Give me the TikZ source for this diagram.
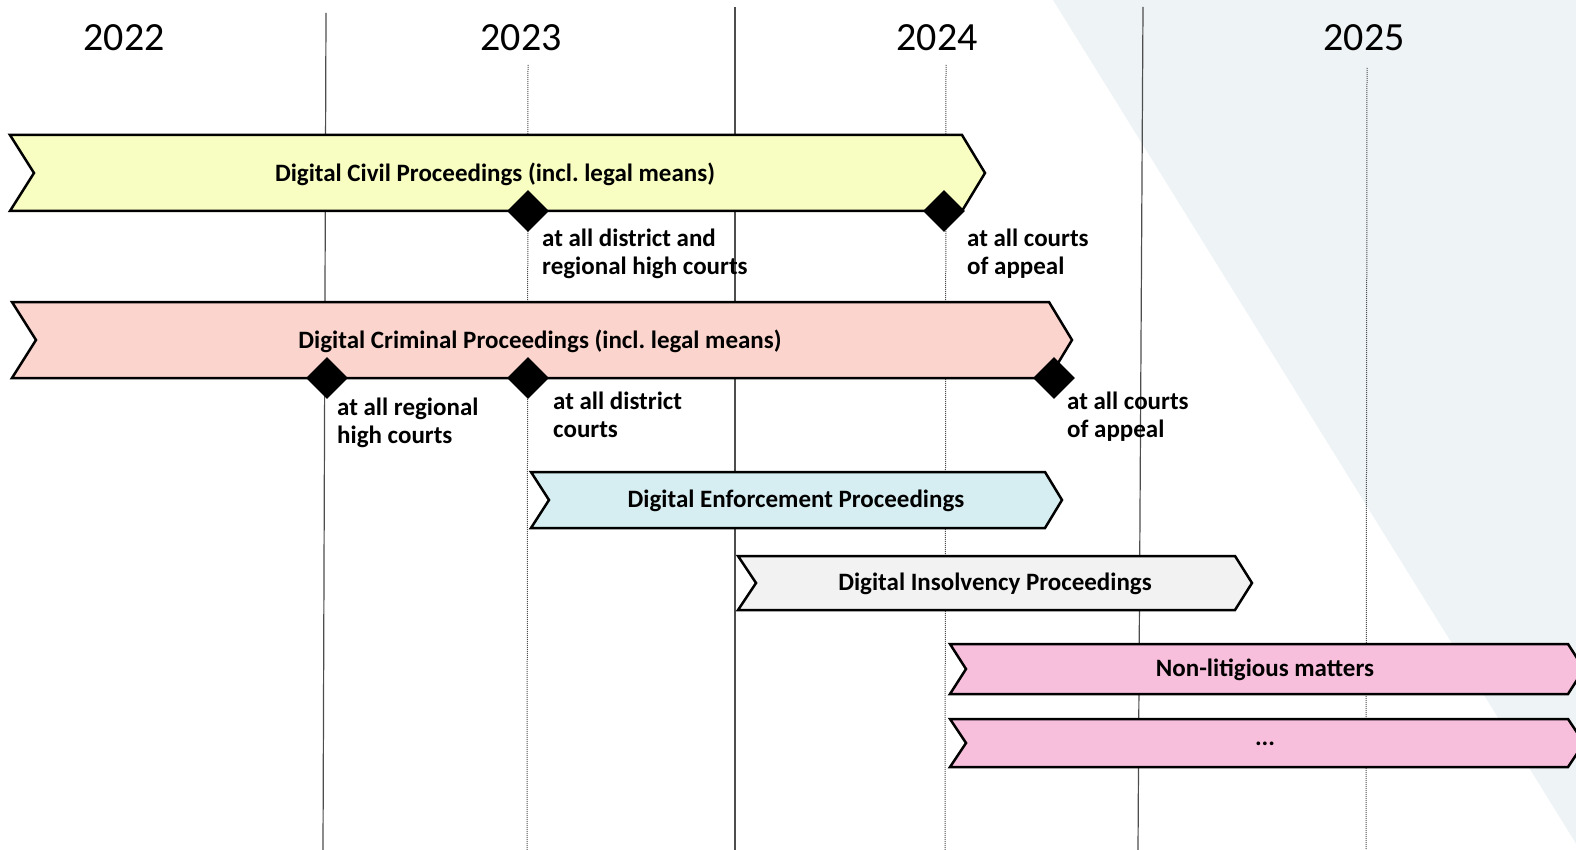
\documentclass[tikz,border=0pt]{standalone}
\usepackage{fontspec}
\setmainfont{Carlito}
\usetikzlibrary{shapes.geometric}

\definecolor{bgtint}{HTML}{EEF3F6}
\definecolor{civilfill}{HTML}{F8FDC1}
\definecolor{crimfill}{HTML}{FBD5CD}
\definecolor{enffill}{HTML}{D6EEF2}
\definecolor{insfill}{HTML}{F2F2F2}
\definecolor{nonlitfill}{HTML}{F8BFDD}
\definecolor{gridgray}{HTML}{4D4D4D}

\begin{document}
\begin{tikzpicture}[x=1pt, y=-1pt,
    chev/.style={draw=black, line width=2.5pt, line join=miter},
    yearline/.style={draw=gridgray, line width=1.2pt},
    halfline/.style={draw=gridgray, line width=1pt, densely dotted},
    year/.style={font=\fontsize{40}{42}\selectfont, inner sep=0},
    bartxt/.style={font=\fontsize{25}{28}\selectfont\bfseries, inner sep=0},
    lbl/.style={font=\fontsize{25}{28}\selectfont\bfseries, align=left, inner sep=0, anchor=base west},
    ms/.style={diamond, fill=black, minimum size=42pt, inner sep=0}]
    \useasboundingbox (0,0) rectangle (1576,850);
    % background tint
    \fill[bgtint] (1053,0) -- (1576,0) -- (1576,850) -- (1580,850) -- cycle;

    % years
    \node[year] (y22) at (124,38) {2022};
    \node[year] (y23) at (521,38) {2023};
    \node[year] (y24) at (937,38) {2024};
    \node[year] (y25) at (1364,38) {2025};

    % year borders and mid-year marks
    \draw[yearline] (326,13) -- (323,850);
    \draw[yearline] (735,7) -- (735,850);
    \draw[yearline] (1143,7) -- (1138,850);
    \draw[halfline] (528,65) -- (527,850);
    \draw[halfline] (946,65) -- (945,850);
    \draw[halfline] (1367,68) -- (1366,850);

    % proceedings
    \draw[chev, fill=civilfill] (10,135) -- (962,135) -- (985,173) -- (962,211) -- (10,211) -- (34,173) -- cycle;
    \node[bartxt] (civil) at (495,174) {Digital Civil Proceedings (incl.\ legal means)};

    \draw[chev, fill=crimfill] (12,302) -- (1049,302) -- (1072,340) -- (1049,378) -- (12,378) -- (36,340) -- cycle;
    \node[bartxt] (crim) at (540,341) {Digital Criminal Proceedings (incl.\ legal means)};

    \draw[chev, fill=enffill] (531,472) -- (1045,472) -- (1062,500) -- (1045,528) -- (531,528) -- (549,500) -- cycle;
    \node[bartxt] (enf) at (796,501) {Digital Enforcement Proceedings};

    \draw[chev, fill=insfill] (738,556) -- (1235,556) -- (1252,583) -- (1235,610) -- (738,610) -- (756,583) -- cycle;
    \node[bartxt] (ins) at (995,584) {Digital Insolvency Proceedings};

    \begin{scope}
        \clip (0,0) rectangle (1576,850);
        \draw[chev, fill=nonlitfill] (950,644) -- (1568,644) -- (1584,669) -- (1568,694) -- (950,694) -- (966,669) -- cycle;
        \draw[chev, fill=nonlitfill] (950,719) -- (1568,719) -- (1584,743) -- (1568,767) -- (950,767) -- (966,743) -- cycle;
    \end{scope}
    \node[bartxt] (nonlit) at (1265,670) {Non-litigious matters};
    \node[bartxt] (more) at (1265,744) {...};

    % milestones
    \node[ms] (m1) at (528,211) {};
    \node[ms] (m2) at (944,211) {};
    \node[ms] (m3) at (327,378) {};
    \node[ms] (m4) at (528,378) {};
    \node[ms] (m5) at (1054,378) {};

    \node[lbl] (t1) at (542,274) {at all district and\\regional high courts};
    \node[lbl] (t2) at (967,274) {at all courts\\of appeal};
    \node[lbl] (t3) at (337,443) {at all regional\\high courts};
    \node[lbl] (t4) at (553,437) {at all district\\courts};
    \node[lbl] (t5) at (1067,437) {at all courts\\of appeal};
\end{tikzpicture}
\end{document}
